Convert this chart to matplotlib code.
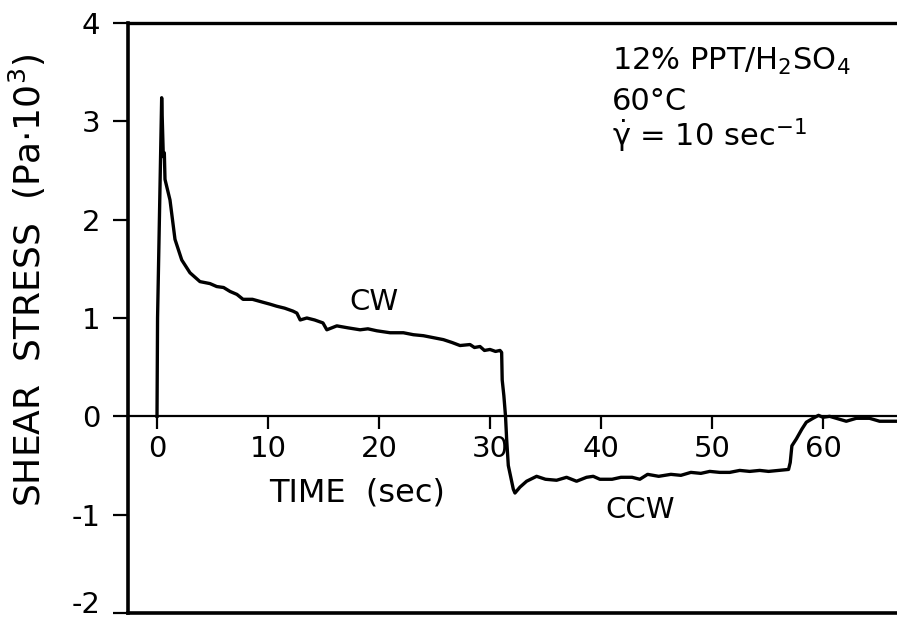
import matplotlib
matplotlib.use("Agg")
import matplotlib.pyplot as plt

plt.rcParams['font.family'] = ['DejaVu Sans']
plt.rcParams['axes.unicode_minus'] = False
plt.rcParams['mathtext.default'] = 'regular'

# Time (sec) and shear stress (Pa·10^3)
time = [0.0, 0.05, 0.42, 0.57, 0.66, 0.72, 1.17, 1.62, 2.23, 2.97, 3.87, 4.77, 5.38,
        6.0, 6.58, 7.2, 7.75, 8.6, 9.55, 10.2, 10.78, 11.5, 12.25, 12.6, 12.9, 13.5,
        14.2, 14.95, 15.3, 16.2, 17.2, 18.3, 19.0, 19.8, 21.0, 22.2, 23.1, 24.0, 24.9,
        25.8, 26.6, 27.3, 28.2, 28.6, 29.1, 29.5, 30.0, 30.5, 30.9, 31.05, 31.1, 31.25,
        31.4, 31.5, 31.65, 32.1, 32.25, 32.7, 33.3, 34.2, 35.0, 36.0, 36.9, 37.8, 38.7,
        39.3, 39.9, 41.0, 41.8, 42.8, 43.5, 44.2, 45.2, 46.3, 47.2, 48.1, 49.0, 49.8,
        50.7, 51.6, 52.5, 53.4, 54.3, 55.1, 56.0, 56.9, 57.05, 57.2, 57.6, 58.1, 58.5,
        59.1, 59.6, 60.0, 60.6, 61.2, 62.1, 63.0, 64.2, 65.1, 66.7]
stress = [0.0, 1.0, 3.24, 2.64, 2.68, 2.41, 2.2, 1.80, 1.59, 1.46, 1.37, 1.35, 1.32,
          1.31, 1.27, 1.24, 1.19, 1.19, 1.16, 1.14, 1.12, 1.10, 1.07, 1.05, 0.98, 1.00,
          0.98, 0.95, 0.88, 0.92, 0.90, 0.88, 0.89, 0.87, 0.85, 0.85, 0.83, 0.82, 0.80,
          0.78, 0.75, 0.72, 0.73, 0.70, 0.71, 0.67, 0.68, 0.66, 0.67, 0.65, 0.37, 0.21,
          0.0, -0.23, -0.50, -0.74, -0.78, -0.72, -0.66, -0.61, -0.64, -0.65, -0.62, -0.66, -0.62,
          -0.61, -0.64, -0.64, -0.62, -0.62, -0.64, -0.59, -0.61, -0.59, -0.60, -0.57, -0.58, -0.56,
          -0.57, -0.57, -0.55, -0.56, -0.55, -0.56, -0.55, -0.54, -0.47, -0.30, -0.23, -0.13, -0.06,
          -0.02, 0.01, -0.01, 0.0, -0.02, -0.05, -0.02, -0.02, -0.05, -0.05]

xticks = [0, 10, 20, 30, 40, 50, 60]
yticks = [-2, -1, 0, 1, 2, 3, 4]

fig = plt.figure(figsize=(8.97, 6.22), dpi=100)
ax = fig.add_axes([128 / 897, 9 / 622, 769 / 897, 590 / 622])

ax.plot(time, stress, color='black', lw=2.4, solid_joinstyle='round')

ax.set_xlim(-2.613, 66.67)
ax.set_ylim(-2, 4)

# axis styling
ax.spines['right'].set_visible(False)
ax.spines['top'].set_linewidth(2.4)
ax.spines['left'].set_linewidth(2.6)
ax.spines['bottom'].set_position(('data', 0))
ax.spines['bottom'].set_linewidth(1.6)
ax.axhline(-2, color='black', lw=2.6, clip_on=False)

ax.set_xticks(xticks)
ax.set_yticks(yticks)
ax.tick_params(axis='x', direction='out', length=9.5, width=1.6, pad=4, labelsize=21)
ax.tick_params(axis='y', direction='out', length=11, width=1.6, pad=9, labelsize=21)
ylabs = ax.get_yticklabels()
for lab in ylabs:
    lab.set_va('center_baseline')
ylabs[0].set_va('baseline')

ax.set_xlabel('TIME  (sec)', fontsize=23)
ax.xaxis.set_label_coords(0.298, 0.230)
ax.xaxis.label.set_va('top')

ax.set_ylabel('SHEAR  STRESS  (Pa$\\cdot$10$^{3}$)', fontsize=26)
ax.yaxis.set_label_coords(-0.104, 0.564)

ax.text(19.5, 1.16, 'CW', fontsize=21, ha='center', va='center')
ax.text(43.5, -0.95, 'CCW', fontsize=21, ha='center', va='center')

ax.text(41.0, 3.52, '12% PPT/H$_2$SO$_4$', fontsize=22, ha='left', va='baseline')
ax.text(41.0, 3.12, '60°C', fontsize=22, ha='left', va='baseline')
ax.text(41.0, 2.74, '$\\dot{\\gamma}$ = 10 sec$^{-1}$', fontsize=22, ha='left', va='baseline')

fig.savefig('out.png', dpi=100)
